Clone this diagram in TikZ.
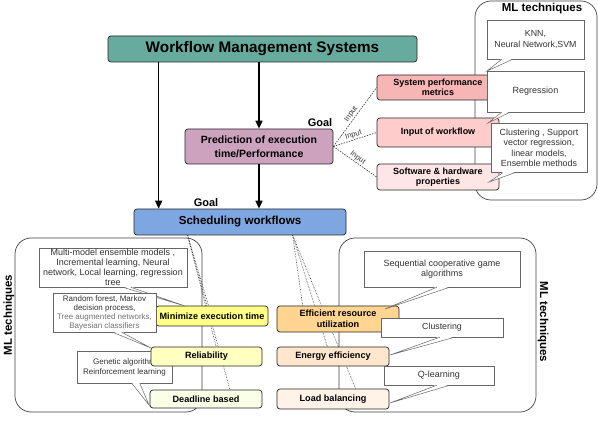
\documentclass[tikz,border=0pt]{standalone}
\usepackage{fontspec}
\setmainfont{Liberation Sans}
\usetikzlibrary{calc,arrows.meta}
\definecolor{cwms}{HTML}{67AB9F}
\definecolor{cpred}{HTML}{CDA2BE}
\definecolor{csched}{HTML}{7EA6E0}
\definecolor{csys}{HTML}{F8B5B5}
\definecolor{cinwf}{HTML}{FFCCCC}
\definecolor{csw}{HTML}{FFE6E6}
\definecolor{cmini}{HTML}{FFFF88}
\definecolor{crel}{HTML}{FFFFC0}
\definecolor{cdead}{HTML}{FAFFE8}
\definecolor{ceff}{HTML}{FFD591}
\definecolor{cene}{HTML}{FFE6CC}
\definecolor{cload}{HTML}{FFF2E6}
\newcommand{\fs}[2]{\fontsize{#1}{#2}\selectfont}
\newcommand{\ctail}[4]{%
  \fill[white] ($(#1.south west)+(#2,-0.7)$) -- (#4) -- ($(#1.south west)+(#3,-0.7)$) -- cycle;
  \draw[tailline] ($(#1.south west)+(#2,0)$) -- (#4) -- ($(#1.south west)+(#3,0)$);}
\begin{document}
\begin{tikzpicture}[x=1pt,y=-1pt,
  box/.style={draw=black!85,line width=0.7pt,rounded corners=3pt,inner sep=0pt,align=center,font=\bfseries},
  cont/.style={draw=black!75,line width=0.7pt,rounded corners=16pt,inner sep=0pt},
  callout/.style={draw=black!60,line width=0.5pt,fill=white,inner sep=0pt,align=center,text=black!80},
  tailline/.style={draw=black!60,line width=0.5pt},
  arr/.style={line width=1.6pt,-{Triangle[length=8pt,width=7pt]}},
  dots/.style={densely dotted,line width=0.6pt,black!80},
  inl/.style={dash pattern=on 1.5pt off 1.2pt,line width=0.6pt,black!80},
  inlbl/.style={font=\fs{7.5}{8},inner sep=1pt},
  ttl/.style={font=\bfseries\fs{11.5}{13}},
  goal/.style={font=\bfseries\fs{11}{12}},
  gbox/.style={box,font=\bfseries\fs{9.1}{10.7}}
  ]
\useasboundingbox (0,0) rectangle (598,422);

% containers
\node[cont,minimum width=122,minimum height=199] (contA) at (536,100.5) {};
\node[ttl] (contAt) at (542,9) {ML techniques};
\node[cont,minimum width=187,minimum height=174] (contB) at (108.5,325) {};
\node[ttl,rotate=90] (contBt) at (9,315) {ML techniques};
\node[cont,minimum width=197,minimum height=174] (contC) at (437.5,325) {};
\node[ttl,rotate=-90] (contCt) at (543,322) {ML techniques};

% main boxes
\node[box,fill=cwms,minimum width=309,minimum height=26,font=\bfseries\fs{15.3}{17}] (wms) at (262.5,49) {Workflow Management Systems};
\node[box,fill=cpred,minimum width=148,minimum height=35,font=\bfseries\fs{10.5}{14}] (pred) at (259,146.5) {Prediction of execution\\time/Performance};
\node[box,fill=csched,minimum width=212,minimum height=26,font=\bfseries\fs{11.6}{13}] (sched) at (240,222) {Scheduling workflows};

\node[goal] (g1) at (320,123) {Goal};
\node[goal] (g2) at (206,203) {Goal};

% arrows
\coordinate (a1) at ($(wms.south west)+(51,0)$);
\draw[arr] (a1) -- (a1 |- sched.north);
\draw[arr] (wms.south -| pred.north) -- (pred.north);
\draw[arr] (pred.south) -- (pred.south |- sched.north);

% goal boxes (right of prediction)
\node[box,fill=csys,minimum width=122,minimum height=25,font=\bfseries\fs{9}{10.5}] (sys) at (438,87.5) {System performance\\metrics};
\node[box,fill=cinwf,minimum width=122,minimum height=29,font=\bfseries\fs{9}{10.5}] (inwf) at (438,132.5) {Input of workflow};
\node[box,fill=csw,minimum width=122,minimum height=26,font=\bfseries\fs{9}{10.5}] (sw) at (438,177) {Software \& hardware\\properties};

\draw[inl] (pred.east) -- node[sloped,above,inlbl]{Input} (sys.west);
\draw[inl] (pred.east) -- node[sloped,above,inlbl]{Input} (inwf.west);
\draw[inl] (pred.east) -- node[sloped,above,inlbl]{Input} (sw.west);

% scheduling dotted links
\coordinate (sl) at ($(sched.south west)+(54,0)$);
\coordinate (sr) at ($(sched.south west)+(159,0)$);
\coordinate (em) at ($(sched.south west)+(79,84)$);
\coordinate (er) at ($(sched.south west)+(86,125)$);
\coordinate (ed) at ($(sched.south west)+(100,168)$);
\coordinate (ee) at ($(sched.south west)+(171,84)$);
\coordinate (en) at ($(sched.south west)+(198,125)$);
\coordinate (el) at ($(sched.south west)+(228,168)$);
\draw[dots] (sl) -- (em);
\draw[dots] (sl) -- (er);
\draw[dots] (sl) -- (ed);
\draw[dots] (sr) -- (ee);
\draw[dots] (sr) -- (en);
\draw[dots] (sr) -- (el);

% callout behind reliability
\node[callout,minimum width=95,minimum height=32,font=\fs{8}{10}] (c3) at (124.5,367) {Genetic algorithm\\Reinforcement learning};
\coordinate (t3) at (149,405);
\ctail{c3}{55}{63}{t3}

% goal boxes (scheduling)
\node[gbox,fill=cmini,minimum width=112,minimum height=20] (mini) at (212,316) {Minimize execution time};
\node[gbox,fill=crel,minimum width=111,minimum height=19] (rel) at (206.5,356.5) {Reliability};
\node[gbox,fill=cdead,minimum width=112,minimum height=18] (dead) at (206,399) {Deadline based};
\node[gbox,fill=ceff,minimum width=122,minimum height=26] (eff) at (338,319) {Efficient resource\\utilization};
\node[gbox,fill=cene,minimum width=112,minimum height=19] (ene) at (333,356.5) {Energy efficiency};
\node[gbox,fill=cload,minimum width=112,minimum height=20] (load) at (333,399) {Load balancing};

% callouts top right
\node[callout,minimum width=97,minimum height=39,font=\fs{8.8}{11}] (knn) at (535.5,39.5) {KNN,\\Neural Network,SVM};
\coordinate (tk) at (487,71);
\ctail{knn}{15}{26}{tk}
\node[callout,minimum width=97,minimum height=41,font=\fs{9}{10}] (regr) at (535.5,91.5) {Regression};
\coordinate (tr) at (488,123);
\ctail{regr}{15}{23}{tr}
\node[callout,minimum width=96,minimum height=49,font=\fs{8.9}{10.5}] (clus) at (539,148) {Clustering , Support\\vector regression,\\linear models,\\Ensemble methods};
\coordinate (tc) at (489,182);
\ctail{clus}{12}{24}{tc}

% callouts bottom left
\node[callout,minimum width=148,minimum height=39,font=\fs{9}{10}] (c1) at (113,267.5) {Multi-model ensemble models ,\\Incremental learning, Neural\\network, Local learning, regression\\tree};
\coordinate (t1) at (185,306);
\ctail{c1}{84}{92}{t1}
\node[callout,minimum width=103,minimum height=39,font=\fs{8}{9}] (c2) at (104.5,312.5) {Random forest, Markov\\decision process,\\\textcolor{black!55}{Tree augmented networks,}\\\textcolor{black!55}{Bayesian classifiers}};
\coordinate (t2) at (151,348);
\ctail{c2}{60}{69}{t2}

% callouts bottom right
\node[callout,minimum width=156,minimum height=36,font=\fs{9}{10}] (r1) at (442,269) {Sequential cooperative game\\algorithms};
\coordinate (u1) at (385,309);
\ctail{r1}{73}{86}{u1}
\node[callout,minimum width=122,minimum height=19,font=\fs{8.8}{10}] (r2) at (442,327.5) {Clustering};
\coordinate (u2) at (390,355);
\ctail{r2}{59}{74}{u2}
\node[callout,minimum width=110,minimum height=19,font=\fs{9}{10}] (r3) at (439,375.5) {Q-learning};
\coordinate (u3) at (390,403);
\ctail{r3}{53}{66}{u3}
\end{tikzpicture}
\end{document}
